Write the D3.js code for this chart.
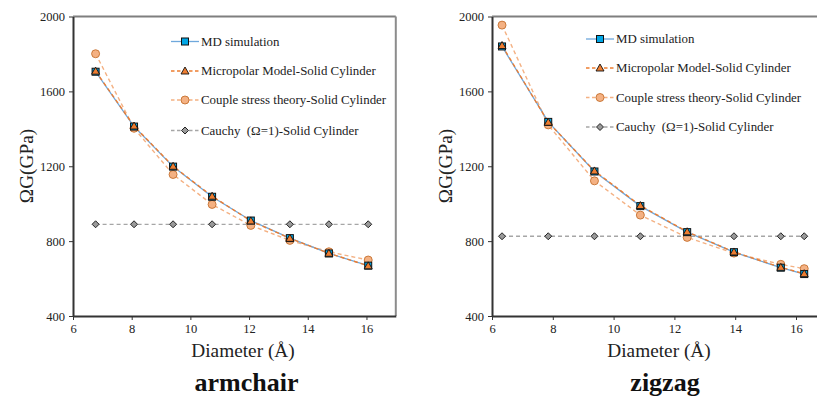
<!DOCTYPE html>
<html><head><meta charset="utf-8">
<script src="https://cdn.jsdelivr.net/npm/d3@7"></script>
<style>body{margin:0;background:#fff}svg{display:block}</style>
</head><body><svg id="c" width="817" height="400"></svg>
<script>
// ---- data ----
const xTicks = [6, 8, 10, 12, 14, 16];
const yTicks = [400, 800, 1200, 1600, 2000];
const seriesNames = ["MD simulation", "Micropolar Model-Solid Cylinder", "Couple stress theory-Solid Cylinder", "Cauchy  (\u03A9=1)-Solid Cylinder"];

const armD = [6.77, 8.08, 9.41, 10.74, 12.06, 13.39, 14.72, 16.06];
const armMD = [1705, 1412, 1198, 1037, 910, 816, 734, 669];
const armMicro = [1708, 1415, 1200, 1040, 908, 815, 735, 668];
const armCouple = [1801, 1403, 1156, 996, 884, 804, 743, 699];
const armCauchy = [890, 890, 890, 890, 890, 890, 890, 890];

const zigD = [6.33, 7.85, 9.37, 10.88, 12.42, 13.96, 15.5, 16.27];
const zigMD = [1840, 1437, 1172, 987, 848, 741, 658, 624];
const zigMicro = [1845, 1435, 1175, 990, 850, 742, 660, 626];
const zigCouple = [1954, 1421, 1122, 939, 820, 736, 676, 653];
const zigCauchy = [826, 826, 826, 826, 826, 826, 826, 826];

const FONT = '"Liberation Serif", "Times New Roman", serif';
const svg = d3.select("#c");

const styles = [
  {line:"#6fa8dc", dash:null, w:1.3, marker:"square", fill:"#00a6e6", stroke:"#111"},
  {line:"#ed7d31", dash:"4,3", w:1.4, marker:"triangle", fill:"#ed7d31", stroke:"#111"},
  {line:"#f4b183", dash:"4,3", w:1.4, marker:"circle", fill:"#f4b183", stroke:"#c5712f"},
  {line:"#a6a6a6", dash:"4,3", w:1.3, marker:"diamond", fill:"#9a9a9a", stroke:"#111"}
];

function drawMarker(g, type, x, y, s) {
  if (type === "square") {
    g.append("rect").attr("x", x-3.5).attr("y", y-3.5).attr("width", 7).attr("height", 7)
      .attr("fill", s.fill).attr("stroke", s.stroke).attr("stroke-width", 1);
  } else if (type === "triangle") {
    g.append("path").attr("d", `M${x},${y-4}L${x+4},${y+3}L${x-4},${y+3}Z`)
      .attr("fill", s.fill).attr("stroke", s.stroke).attr("stroke-width", 0.9);
  } else if (type === "circle") {
    g.append("circle").attr("cx", x).attr("cy", y).attr("r", 4)
      .attr("fill", s.fill).attr("stroke", s.stroke).attr("stroke-width", 0.9);
  } else {
    g.append("path").attr("d", `M${x},${y-3.5}L${x+3.5},${y}L${x},${y+3.5}L${x-3.5},${y}Z`)
      .attr("fill", s.fill).attr("stroke", s.stroke).attr("stroke-width", 0.9);
  }
}

function txt(sel) { return sel.style("font-family", FONT); }

function panel(cfg) {
  const g = svg.append("g");
  const x = d3.scaleLinear().domain([6, 17]).range([cfg.x0, cfg.x1]);
  const y = d3.scaleLinear().domain([400, 2000]).range([316, 16.5]);

  g.append("line").attr("x1", x(6)).attr("x2", x(17)).attr("y1", y(2000)).attr("y2", y(2000))
    .attr("stroke", "#7f7f7f").attr("stroke-width", 2);
  g.append("line").attr("x1", x(17)).attr("x2", x(17)).attr("y1", y(2000)).attr("y2", y(400))
    .attr("stroke", "#8c8c8c").attr("stroke-width", 2);

  const yAxis = g.append("g").attr("transform", `translate(${x(6)},0)`)
    .call(d3.axisLeft(y).tickValues(yTicks).tickSize(4).tickSizeOuter(0).tickFormat(d3.format("d")));
  const xAxis = g.append("g").attr("transform", `translate(0,${y(400)})`)
    .call(d3.axisBottom(x).tickValues(xTicks).tickSize(4).tickSizeOuter(0));
  [yAxis, xAxis].forEach(a => {
    a.attr("font-family", null).style("font-family", FONT);
    a.select(".domain").attr("stroke", "#333").attr("stroke-width", 2);
    a.selectAll(".tick line").attr("stroke", "#333").attr("stroke-width", 1);
    txt(a.selectAll("text")).attr("font-size", 12.5).attr("fill", "#222");
  });
  yAxis.selectAll("text").attr("x", -8);
  xAxis.selectAll("text").attr("y", 8);

  const all = [cfg.md, cfg.micro, cfg.couple, cfg.cauchy];
  const order = [3, 2, 0, 1];
  order.forEach(i => {
    const s = styles[i];
    const pts = cfg.d.map((dv, k) => [x(dv), y(all[i][k])]);
    g.append("path").attr("d", d3.line()(pts)).attr("fill", "none")
      .attr("stroke", s.line).attr("stroke-width", s.w).attr("stroke-dasharray", s.dash);
  });
  order.forEach(i => {
    const s = styles[i];
    cfg.d.forEach((dv, k) => drawMarker(g, s.marker, x(dv), y(all[i][k]), s));
  });

  seriesNames.forEach((n, i) => {
    const s = styles[i];
    const ly = cfg.ly[i];
    g.append("line").attr("x1", cfg.lx).attr("x2", cfg.lx + 28).attr("y1", ly).attr("y2", ly)
      .attr("stroke", s.line).attr("stroke-width", s.w).attr("stroke-dasharray", s.dash ? "3.5,2.5" : null);
    drawMarker(g, s.marker, cfg.lx + 14, ly, s);
    txt(g.append("text")).attr("x", cfg.lx + 30).attr("y", ly + 4).attr("font-size", 12.9)
      .attr("fill", "#222").attr("xml:space", "preserve").style("white-space", "pre").text(n);
  });

  txt(g.append("text")).attr("x", cfg.xtc).attr("y", 357).attr("text-anchor", "middle")
    .attr("font-size", 19.3).attr("fill", "#222").text("Diameter (\u00C5)");
  txt(g.append("text")).attr("transform", `translate(${cfg.ytx},166) rotate(-90)`).attr("text-anchor", "middle")
    .attr("font-size", 19.3).attr("fill", "#222").text("\u03A9G(GPa)");
  txt(g.append("text")).attr("x", cfg.tc).attr("y", 391).attr("text-anchor", "middle")
    .attr("font-size", 26).attr("font-weight", "bold").attr("fill", "#111").text(cfg.title);
}

panel({x0:73, x1:395.8, d:armD, md:armMD, micro:armMicro, couple:armCouple, cauchy:armCauchy,
  lx:171, ly:[41.5, 71, 100, 130.5], xtc:243, ytx:33, tc:246.5, title:"armchair"});
panel({x0:492, x1:826.4, d:zigD, md:zigMD, micro:zigMicro, couple:zigCouple, cauchy:zigCauchy,
  lx:586, ly:[39, 68, 97.5, 127], xtc:659, ytx:452, tc:665, title:"zigzag"});
</script></body></html>
